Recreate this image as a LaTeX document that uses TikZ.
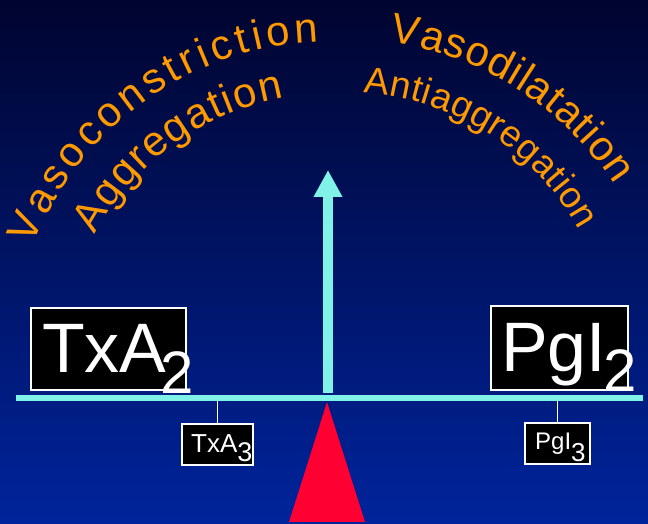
\documentclass[tikz,border=0pt]{standalone}
\usepackage{fontspec}
\setmainfont{Liberation Sans}
\usepackage{tikz}
\usetikzlibrary{arrows.meta,positioning,decorations.text}
\definecolor{bgtop}{HTML}{00042F}
\definecolor{bgbot}{HTML}{00249C}
\definecolor{beamcol}{HTML}{80F2E8}
\definecolor{fulcrum}{HTML}{FF0033}
\definecolor{vorange}{HTML}{FF9900}

\begin{document}
\begin{tikzpicture}[
  x=1pt, y=1pt,
  bigbox/.style={draw=white, line width=2pt, fill=black, inner sep=0pt},
  smallbox/.style={bigbox, line width=1.6pt},
  bigtxt/.style={text=white, inner sep=0pt, anchor=base west, font=\fontsize{70}{70}\selectfont},
  smalltxt/.style={bigtxt, font=\fontsize{26}{26}\selectfont},
  beam/.style={fill=beamcol, inner sep=0pt, minimum width=627pt, minimum height=6pt},
  hanger/.style={draw=white, line width=1.8pt},
  ar/.style={-{Triangle[length=27pt,width=27pt]}, draw=beamcol, line width=9.5pt},
  arctext/.style={decorate, decoration={text along path,
      text={|\fontsize{42}{42}\selectfont\color{vorange}|#1}, text align={fit to path}}},
  arctextin/.style={decorate, decoration={text along path,
      text={|\fontsize{37}{37}\selectfont\color{vorange}|#1}, text align={fit to path}}},
]
\useasboundingbox (0,0) rectangle (648,524);
\shade[top color=bgtop, bottom color=bgbot] (0,0) rectangle (648,524);
% curved captions
\coordinate (lc) at (330,164);
\coordinate (rc) at (345,164);
\path[arctext=Vasoconstriction] (lc) ++(159:318) arc[start angle=159, end angle=92, radius=318];
\path[arctext=Aggregation] (lc) ++(152:266) arc[start angle=152, end angle=100, radius=266];
\path[arctext=Vasodilatation] (rc) ++(82:321) arc[start angle=82, end angle=33, radius=321];
\path[arctextin=Antiaggregation] (rc) ++(86:268) arc[start angle=86, end angle=29, radius=268];
% balance
\fill[fulcrum] (327,122) -- (365,2) -- (289,2) -- cycle;
\node[beam] (beam) at (329.5,126) {};
\coordinate (up) at (328,354);
\draw[ar] (328,131) -- (up);
\node[bigbox, minimum width=155pt, minimum height=82pt] (txa2box) at (108.5,175) {};
\node[bigtxt] (txa2) at (42,151) {TxA\kern-6pt\raisebox{-21pt}{\fontsize{60}{60}\selectfont 2}};
\node[bigbox, minimum width=137pt, minimum height=84pt] (pgi2box) at (559.5,176) {};
\node[bigtxt] (pgi2) at (501,152) {PgI\kern-3pt\raisebox{-20pt}{\fontsize{60}{60}\selectfont 2}};
\node[smallbox, minimum width=71pt, minimum height=41pt] (txa3box) at (217.5,79.5) {};
\node[smalltxt] (txa3) at (191,71) {TxA\raisebox{-9pt}{\fontsize{27}{27}\selectfont 3}};
\node[smallbox, minimum width=65pt, minimum height=41pt] (pgi3box) at (557.5,80.5) {};
\node[smalltxt, font=\fontsize{24}{24}\selectfont] (pgi3) at (535,74) {PgI\raisebox{-12pt}{\fontsize{26}{26}\selectfont 3}};
\draw[hanger] (txa3box.north) -- (txa3box.north |- beam.south);
\draw[hanger] (pgi3box.north) -- (pgi3box.north |- beam.south);
\end{tikzpicture}
\end{document}
